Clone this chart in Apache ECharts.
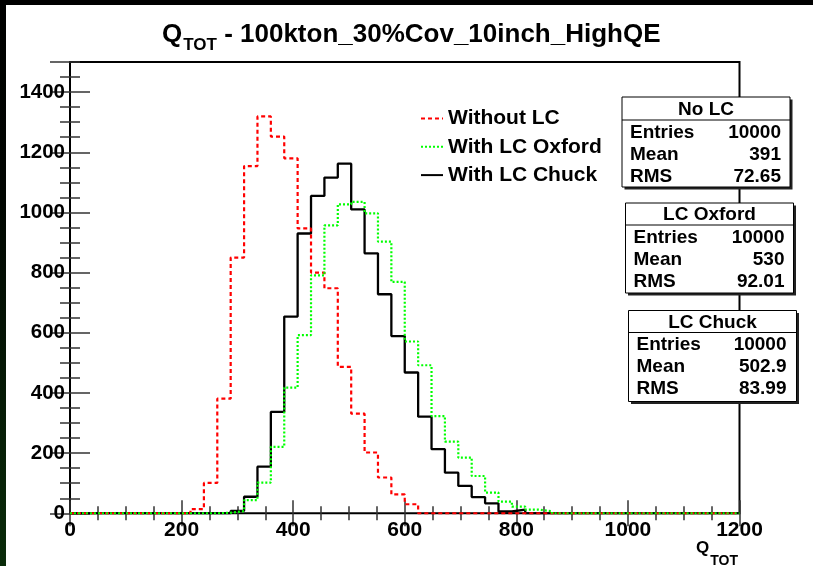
<!DOCTYPE html>
<html>
<head>
<meta charset="utf-8">
<script src="https://cdn.jsdelivr.net/npm/echarts@6/dist/echarts.min.js"></script>
<style>
html,body{margin:0;padding:0;background:#fff;}
#chart{width:813px;height:566px;}
</style>
</head>
<body>
<div id="chart"></div>
<script>
// ---- data ----
const xMin = 0, xMax = 1200, binWidth = 24; // 50 bins
const seriesNames = ['Without LC', 'With LC Oxford', 'With LC Chuck'];
const noLC = [0,0,0,0,0,0,0,0,0,14,101,381,850,1154,1319,1252,1180,947,800,748,487,331,202,119,63,30,
  0,0,0,0,0,0,0,0,0,0,0,0,0,0,0,0,0,0,0,0,0,0,0,0];
const lcOxford = [0,0,0,0,0,0,0,0,0,0,0,2,7,44,102,221,418,592,791,957,1027,1035,997,903,769,571,492,323,238,185,124,69,39,22,12,7,
  0,0,0,0,0,0,0,0,0,0,0,0,0,0];
const lcChuck = [0,0,0,0,0,0,0,0,0,0,0,0,8,55,155,337,654,930,1055,1116,1162,1010,864,728,589,468,321,213,135,91,54,33,6,12,
  0,0,0,0,0,0,0,0,0,0,0,0,0,0,0,0];
const yMax = 1500;
const statsTitles = ['No LC', 'LC Oxford', 'LC Chuck'];
const statsEntries = ['10000', '10000', '10000'];
const statsMean = ['391', '530', '502.9'];
const statsRMS = ['72.65', '92.01', '83.99'];

// ---- helpers ----
function toSteps(counts) {
  const pts = counts.map((c, i) => [xMin + i * binWidth, c]);
  pts.push([xMax, counts[counts.length - 1]]);
  return pts;
}
const FF = '"Liberation Sans", Arial, Helvetica, sans-serif';
const tickColor = '#333';

// stats boxes layout
const boxes = [
  {x: 622, y: 97, w: 168, h: 90, sep: 23, lx: 8, rx: 159},
  {x: 625.5, y: 203, w: 168, h: 90, sep: 22, lx: 8, rx: 159},
  {x: 628.5, y: 310.5, w: 168, h: 91, sep: 22, lx: 8, rx: 158}
];
const graphics = [
  {type: 'rect', shape: {x: 0, y: 0, width: 813, height: 5}, style: {fill: '#000'}, z: 100},
  {type: 'rect', shape: {x: 0, y: 0, width: 6, height: 566},
   style: {fill: new echarts.graphic.LinearGradient(0, 0, 0, 1, [{offset: 0, color: '#000'}, {offset: 0.35, color: '#010601'}, {offset: 1, color: '#0a2c0a'}])}, z: 100}
];
boxes.forEach((b, k) => {
  graphics.push({type: 'rect', shape: {x: b.x + 2.5, y: b.y + 2.5, width: b.w, height: b.h}, style: {fill: '#222'}, z: 50});
  graphics.push({type: 'rect', shape: {x: b.x, y: b.y, width: b.w, height: b.h}, style: {fill: '#fff', stroke: '#000', lineWidth: 1}, z: 51});
  graphics.push({type: 'line', shape: {x1: b.x, y1: b.y + b.sep, x2: b.x + b.w, y2: b.y + b.sep}, style: {stroke: '#000', lineWidth: 1}, z: 52});
  graphics.push({type: 'text', z: 53, style: {text: statsTitles[k], x: b.x + b.w / 2, y: b.y + b.sep / 2 + 1, font: 'bold 19px ' + FF, fill: '#000', align: 'center', verticalAlign: 'middle', textAlign: 'center', textVerticalAlign: 'middle'}});
  const rows = [['Entries', statsEntries[k]], ['Mean', statsMean[k]], ['RMS', statsRMS[k]]];
  rows.forEach((r, j) => {
    const cy = b.y + b.sep + 12.5 + j * 22;
    graphics.push({type: 'text', z: 53, style: {text: r[0], x: b.x + b.lx, y: cy, font: 'bold 19px ' + FF, fill: '#000', align: 'left', verticalAlign: 'middle', textAlign: 'left', textVerticalAlign: 'middle'}});
    graphics.push({type: 'text', z: 53, style: {text: r[1], x: b.x + b.rx, y: cy, font: 'bold 19px ' + FF, fill: '#000', align: 'right', verticalAlign: 'middle', textAlign: 'right', textVerticalAlign: 'middle'}});
  });
});

function plain(v) { return String(v); }
function axisX(interval, pos, len, labels) {
  return {
    type: 'value', min: xMin, max: xMax, interval: interval, position: pos, gridIndex: 0,
    axisLine: {show: false},
    axisTick: {show: true, inside: true, length: len, lineStyle: {color: tickColor, width: 1.5}},
    axisLabel: labels ? {show: true, margin: 6, color: '#000', fontSize: 21, fontWeight: 'bold', fontFamily: FF, formatter: plain} : {show: false},
    splitLine: {show: false}
  };
}
function axisY(interval, pos, len, labels) {
  return {
    type: 'value', min: 0, max: yMax, interval: interval, position: pos, gridIndex: 0,
    axisLine: {show: false},
    axisTick: {show: true, inside: true, length: len, lineStyle: {color: tickColor, width: 1.5}},
    axisLabel: labels ? {show: true, margin: 5, color: '#000', fontSize: 20.5, fontWeight: 'bold', fontFamily: FF, showMaxLabel: false, formatter: plain} : {show: false},
    splitLine: {show: false}
  };
}

const chart = echarts.init(document.getElementById('chart'), null, {renderer: 'canvas'});
chart.setOption({
  animation: false,
  backgroundColor: '#fff',
  title: [
    {
      text: '{q|Q}{s|TOT}{r| - 100kton_30%Cov_10inch_HighQE}',
      left: 157, top: 17,
      textStyle: {rich: {
        q: {fontSize: 26, fontWeight: 'bold', fontFamily: FF, color: '#000', lineHeight: 26, verticalAlign: 'top'},
        s: {fontSize: 17, fontWeight: 'bold', fontFamily: FF, color: '#000', lineHeight: 17, verticalAlign: 'top', padding: [15, 0, 0, 1]},
        r: {fontSize: 26, fontWeight: 'bold', fontFamily: FF, color: '#000', lineHeight: 26, verticalAlign: 'top'}
      }}
    },
    {
      text: '{q|Q}{s|TOT}',
      left: 691, top: 535,
      textStyle: {rich: {
        q: {fontSize: 17, fontWeight: 'bold', fontFamily: FF, color: '#000', lineHeight: 17, verticalAlign: 'top'},
        s: {fontSize: 14, fontWeight: 'bold', fontFamily: FF, color: '#000', lineHeight: 14, verticalAlign: 'top', padding: [14, 0, 0, 1]}
      }}
    }
  ],
  legend: {
    orient: 'vertical', left: 415, top: 102.5,
    itemWidth: 22, itemHeight: 14, itemGap: 6.3,
    data: seriesNames,
    itemStyle: {opacity: 0},
    textStyle: {fontSize: 21, fontWeight: 'bold', fontFamily: FF, color: '#000', lineHeight: 22}
  },
  grid: {left: 70, right: 73.5, top: 62, bottom: 52.7, show: true, borderColor: '#000', borderWidth: 2, backgroundColor: 'transparent', containLabel: false},
  xAxis: [axisX(200, 'bottom', 13, true), axisX(50, 'bottom', 7, false), axisX(200, 'top', 13, false), axisX(50, 'top', 7, false)],
  yAxis: [axisY(200, 'left', 20, true), axisY(50, 'left', 10, false), axisY(200, 'right', 20, false), axisY(50, 'right', 10, false)],
  graphic: graphics,
  series: [
    {name: seriesNames[2], type: 'line', step: 'end', symbol: 'none', xAxisIndex: 0, yAxisIndex: 0, data: toSteps(lcChuck),
     lineStyle: {color: '#000', width: 2.3}, itemStyle: {color: '#000'}, z: 3},
    {name: seriesNames[0], type: 'line', step: 'end', symbol: 'none', xAxisIndex: 0, yAxisIndex: 0, data: toSteps(noLC),
     lineStyle: {color: '#ff0000', width: 2.2, type: [4, 3]}, itemStyle: {color: '#ff0000'}, z: 4},
    {name: seriesNames[1], type: 'line', step: 'end', symbol: 'none', xAxisIndex: 0, yAxisIndex: 0, data: toSteps(lcOxford),
     lineStyle: {color: '#00ff00', width: 2.2, type: [2, 2]}, itemStyle: {color: '#00ff00'}, z: 5}
  ]
});
</script>
</body>
</html>
